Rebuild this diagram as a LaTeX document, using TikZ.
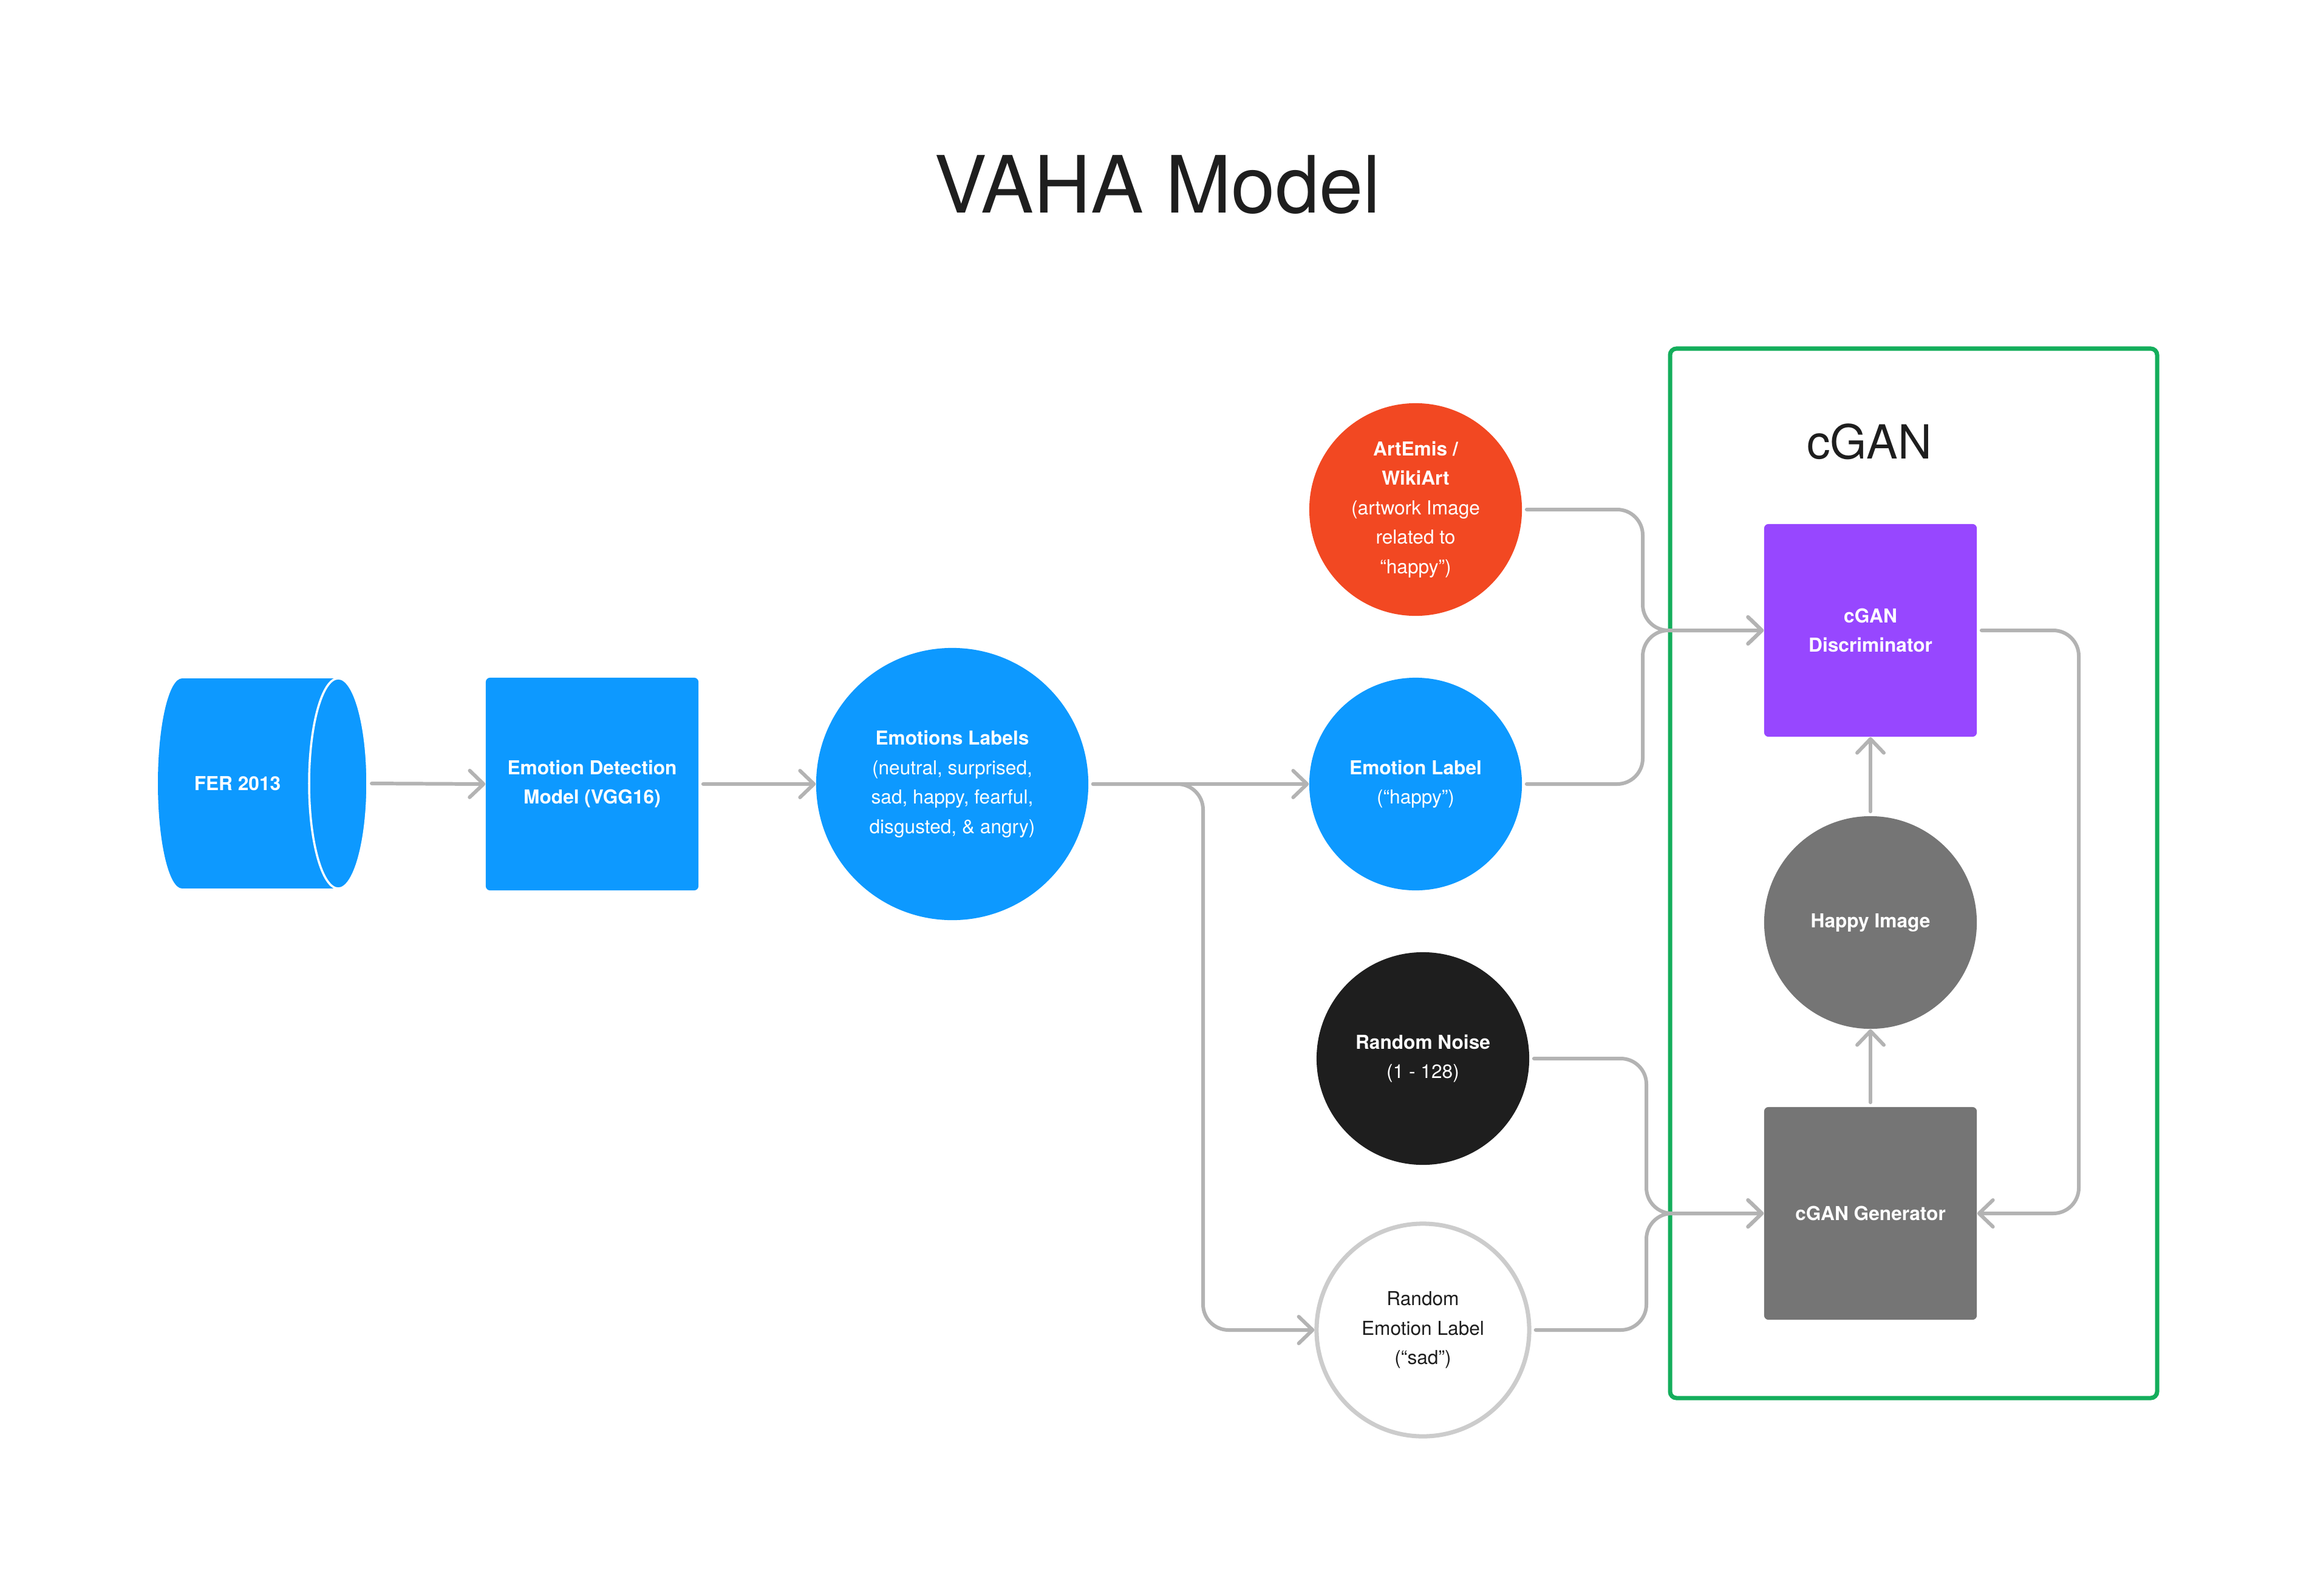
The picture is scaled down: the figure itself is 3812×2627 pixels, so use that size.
\documentclass[tikz,border=0pt]{standalone}
\usepackage{fontspec}
\setmainfont{TeX Gyre Heros}
\usetikzlibrary{arrows.meta}
\definecolor{fblue}{HTML}{0D99FF}
\definecolor{fred}{HTML}{F24822}
\definecolor{fpurple}{HTML}{9747FF}
\definecolor{fdark}{HTML}{1E1E1E}
\definecolor{fgray}{HTML}{757575}
\definecolor{fgreen}{HTML}{14AE5C}
\definecolor{fline}{HTML}{B3B3B3}
\definecolor{fring}{HTML}{CCCCCC}

\begin{document}
\begin{tikzpicture}[x=0.01cm,y=-0.01cm,font=\fontsize{9}{13.8}\selectfont,
 blk/.style={rectangle,rounded corners=2pt,minimum size=3.5cm,inner sep=0pt,align=center,text=white,font=\fontsize{9}{13.8}\selectfont\bfseries},
 dot/.style={circle,minimum size=3.5cm,inner sep=0pt,align=center,text=white},
 conn/.style={draw=fline,line width=1.7pt,line cap=round,rounded corners=12pt,shorten <=2pt,-{Straight Barb[length=6.5pt,width=12.5pt,round]}}]
 \fill[white] (0,0) rectangle (3812,2627);\useasboundingbox (0,0) rectangle (3812,2627);
 \node[font=\fontsize{37}{44}\selectfont,text=fdark] (title) at (1906,304) {VAHA Model};
 \fill[fblue] (300,1290) ellipse [x radius=40,y radius=173];\fill[fblue] (300,1117) rectangle (557,1463);
 \filldraw[fill=fblue,draw=white,line width=1pt] (557,1290) ellipse [x radius=48,y radius=173];
 \node[text=white,font=\fontsize{9}{13.8}\selectfont\bfseries] (fer) at (391,1290) {FER 2013};
 \coordinate (ferend) at (605,1290);
 \node[blk,fill=fblue] (vgg) at (975,1291) {Emotion Detection\\Model (VGG16)};
 \node[dot,fill=fblue,minimum size=4.48cm] (emos) at (1568,1291) {{\bfseries Emotions Labels}\\(neutral, surprised,\\sad, happy, fearful,\\disgusted, \& angry)};
 \node[dot,fill=fred] (art) at (2331,839) {{\bfseries ArtEmis /}\\{\bfseries WikiArt}\\(artwork Image\\related to\\“happy”)};
 \node[dot,fill=fblue] (emo) at (2331,1291) {{\bfseries Emotion Label}\\(“happy”)};
 \node[dot,fill=fdark] (noise) at (2343,1743) {{\bfseries Random Noise}\\(1 - 128)};
 \node[dot,draw=fring,line width=2pt,text=fdark] (remo) at (2343,2190) {Random\\Emotion Label\\(“sad”)};
 \draw[fgreen,line width=2pt,rounded corners=3pt] (2750,574) rectangle (3552,2302);
 \node[font=\fontsize{22}{28}\selectfont,text=fdark] (cgan) at (3078,727) {cGAN};
 \node[blk,fill=fpurple] (disc) at (3080,1038) {cGAN\\Discriminator};
 \node[dot,fill=fgray,font=\fontsize{9}{13.8}\selectfont\bfseries] (happy) at (3080,1519) {Happy Image};
 \node[blk,fill=fgray] (gen) at (3080,1998) {cGAN Generator};
 \coordinate (split) at (1981,1291);\coordinate (jd) at (2705,1038);\coordinate (jg) at (2711,1998);\coordinate (fb) at (3423,1038);
 \draw[conn] (ferend) -- (vgg.west);
 \draw[conn] (vgg.east) -- (emos.west);
 \draw[conn] (emos.east) -- (emo.west);
 \draw[conn] (emos.east) -- (split) |- (remo.west);
 \draw[conn] (art.east) -| (jd) -- (disc.west);
 \draw[conn] (emo.east) -| (jd) -- (disc.west);
 \draw[conn] (noise.east) -| (jg) -- (gen.west);
 \draw[conn] (remo.east) -| (jg) -- (gen.west);
 \draw[conn] (disc.east) -- (fb) |- (gen.east);
 \draw[conn] (gen.north) -- (happy.south);
 \draw[conn] (happy.north) -- (disc.south);
\end{tikzpicture}
\end{document}
